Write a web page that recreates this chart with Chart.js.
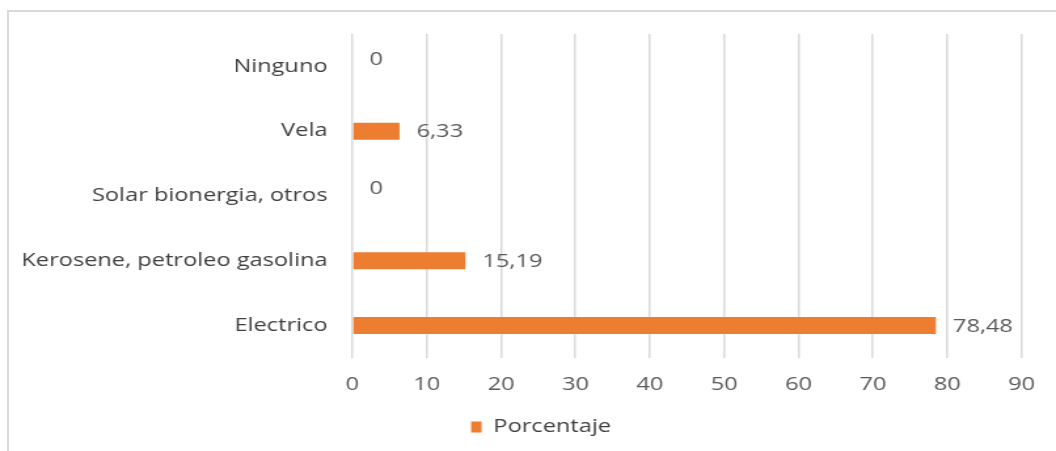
<!DOCTYPE html>
<html lang="es">
<head>
<meta charset="UTF-8">
<title>Porcentaje</title>
<style>
  body { margin: 0; background: #fff; overflow: hidden; }
  /* marco gris del gráfico (solo se ven los bordes superior e izquierdo) */
  .marco {
    position: absolute; left: 7px; top: 10px; width: 1200px; height: 600px;
    border-top: 2px solid #d9d9d9; border-left: 2px solid #d9d9d9;
  }
  #grafico { position: absolute; left: 0; top: 0; }
</style>
</head>
<body>
<div class="marco"></div>
<!-- se dibuja a 806 px de ancho y se estira a 1056 px -->
<canvas id="grafico" width="806" height="451" style="width:1056px;height:451px"></canvas>

<script src="https://cdn.jsdelivr.net/npm/chart.js"></script>
<script>
const categorias = ['Ninguno', 'Vela', 'Solar bionergia, otros', 'Kerosene, petroleo gasolina', 'Electrico'];
const porcentaje = [0, 6.33, 0, 15.19, 78.48];
const ticksX = [0, 10, 20, 30, 40, 50, 60, 70, 80, 90];

const fuente = { family: '"Open Sans", sans-serif', size: 18 };

// etiquetas de valor a la derecha de cada barra, con coma decimal
const etiquetas = {
    id: 'etiquetas',
    afterDatasetsDraw(chart) {
        const ctx = chart.ctx;
        const meta = chart.getDatasetMeta(0);
        ctx.save();
        ctx.font = '18px "Open Sans", sans-serif';
        ctx.fillStyle = '#595959';
        ctx.textAlign = 'left';
        ctx.textBaseline = 'middle';
        meta.data.forEach((bar, i) => {
            const v = porcentaje[i];
            const y = v === 0 ? bar.y - 7 : bar.y + 1;
            ctx.fillText(String(v).replace('.', ','), bar.x + 13, y);
        });
        ctx.restore();
    }
};

// la leyenda va algo a la derecha del centro del lienzo
const moverLeyenda = {
    id: 'moverLeyenda',
    afterLayout(chart) {
        chart.legend.left += 20;
        chart.legend.right += 20;
    }
};

new Chart(document.getElementById('grafico'), {
    type: 'bar',
    data: {
        labels: categorias,
        datasets: [{
            label: 'Porcentaje',
            data: porcentaje,
            backgroundColor: '#ed7d31',
            barThickness: 17,
            inflateAmount: 0
        }]
    },
    options: {
        indexAxis: 'y',
        responsive: false,
        devicePixelRatio: 1,
        animation: false,
        layout: { padding: { left: 0, right: 20, top: 34, bottom: 5 } },
        scales: {
            x: {
                min: 0,
                max: 90,
                afterBuildTicks: s => { s.ticks = ticksX.map(v => ({ value: v })); },
                grid: { color: '#d9d9d9', lineWidth: 1.5, drawTicks: false },
                border: { display: false },
                ticks: { padding: 16, color: '#595959', font: fuente },
                afterFit: s => { s.height = 50; }
            },
            y: {
                grid: { display: false, drawTicks: false },
                border: { display: false },
                ticks: { padding: 19, color: '#404040', font: fuente },
                afterFit: s => { s.width = 269; }
            }
        },
        plugins: {
            legend: {
                position: 'bottom',
                labels: { boxWidth: 8, boxHeight: 11, padding: 10, color: '#404040', font: fuente }
            },
            tooltip: { enabled: false }
        }
    },
    plugins: [etiquetas, moverLeyenda]
});
</script>
</body>
</html>
